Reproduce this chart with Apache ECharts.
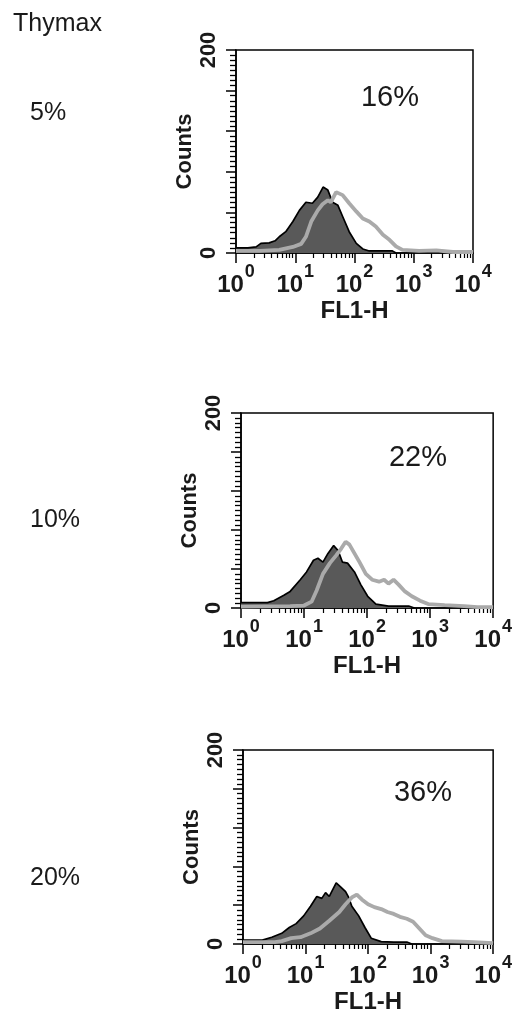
<!DOCTYPE html>
<html>
<head>
<meta charset="utf-8">
<script src="https://cdn.jsdelivr.net/npm/echarts@6/dist/echarts.min.js"></script>
<style>html,body{margin:0;padding:0;background:#fff}#c{width:515px;height:1015px}</style>
</head>
<body>
<div id="c"></div>
<script>
// ---- data (x in log10 decades of FL1-H, y = counts) ----
const conditionLabels = ['5%', '10%', '20%'];
const positiveLabels = ['16%', '22%', '36%'];
const decadeLabels = [0, 1, 2, 3, 4];
const minorMultipliers = [2, 3, 4, 5, 6, 7, 8, 9];

const control1X = [0, 0.2, 0.34, 0.42, 0.56, 0.66, 0.73, 0.84, 0.96, 1.07, 1.18, 1.29, 1.38, 1.47, 1.55, 1.63, 1.72, 1.80, 1.91, 2.03, 2.14, 2.25, 2.45, 2.64, 2.7];
const control1Y = [5, 5, 6, 9.5, 10, 12, 16, 21, 31, 42, 50, 49, 55, 65, 62, 50, 47, 36, 21, 9.5, 4, 2, 2, 2, 0];
const treated1X = [0, 0.4, 0.73, 0.96, 1.10, 1.18, 1.27, 1.38, 1.46, 1.55, 1.60, 1.69, 1.80, 1.91, 2.03, 2.14, 2.25, 2.36, 2.48, 2.59, 2.70, 2.81, 3.09, 3.38, 3.66, 4.0];
const treated1Y = [2, 2, 3, 6, 9, 16, 31, 42, 48, 52, 50, 60, 57, 49, 41, 34, 31, 26, 18, 13, 6.5, 3, 2, 2.5, 1, 1];

const control2X = [0, 0.42, 0.52, 0.68, 0.78, 0.94, 1.04, 1.15, 1.22, 1.30, 1.38, 1.47, 1.54, 1.61, 1.69, 1.80, 1.90, 2.01, 2.14, 2.34, 2.66, 2.75];
const control2Y = [5.5, 5.5, 7.5, 13, 17, 29, 37, 49, 51, 47, 56, 64, 59, 47, 46, 37, 24, 12, 4, 2, 2, 0];
const treated2X = [0, 0.78, 1.0, 1.12, 1.20, 1.30, 1.41, 1.51, 1.59, 1.66, 1.72, 1.80, 1.88, 1.98, 2.08, 2.19, 2.27, 2.34, 2.42, 2.50, 2.60, 2.71, 2.84, 2.97, 3.23, 3.54, 3.75, 4.0];
const treated2Y = [1.5, 2, 2.5, 6.5, 18, 35, 46, 54, 61, 68, 65, 56, 47, 35, 29, 27, 29, 25, 29, 24, 17, 12, 7.5, 4, 3, 2, 1, 1];

const control3X = [0, 0.31, 0.46, 0.62, 0.74, 0.85, 0.97, 1.08, 1.18, 1.26, 1.32, 1.38, 1.49, 1.56, 1.64, 1.69, 1.74, 1.85, 1.95, 2.05, 2.21, 2.41, 2.62, 2.7];
const control3Y = [4, 4, 7, 11, 17, 21, 29, 39, 49, 47, 53, 49, 63, 59, 54, 48, 39, 29, 17, 6, 2.5, 2, 2, 0];
const treated3X = [0, 0.51, 0.62, 0.77, 0.92, 1.08, 1.23, 1.38, 1.54, 1.64, 1.74, 1.82, 1.90, 2.00, 2.10, 2.21, 2.31, 2.41, 2.51, 2.62, 2.72, 2.82, 2.92, 3.03, 3.18, 3.49, 3.69, 4.0];
const treated3Y = [2, 2, 3, 6, 7, 11, 16, 24, 33, 41, 48, 51, 46, 41, 38, 36, 33, 31, 28, 26, 23, 16, 9, 6, 3, 2.5, 2, 1];

const controls = [[control1X, control1Y], [control2X, control2Y], [control3X, control3Y]];
const treateds = [[treated1X, treated1Y], [treated2X, treated2Y], [treated3X, treated3Y]];

// ---- layout ----
const grids = [
  {left: 236, top: 50, width: 237, height: 203},
  {left: 241, top: 413, width: 256, height: 195},
  {left: 243, top: 750, width: 260, height: 202}
];
const FONT = '"Liberation Sans", Arial, sans-serif';
const INK = '#1a1a1a';

const minorTickValues = [];
decadeLabels.slice(0, 4).forEach(d => minorMultipliers.forEach(m => minorTickValues.push(d + Math.log10(m))));

const zip = (xs, ys) => xs.map((x, i) => [x, ys[i]]);

const option = {
  animation: false,
  backgroundColor: '#fff',
  grid: [], xAxis: [], yAxis: [], series: [], graphic: []
};

grids.forEach((g, i) => {
  option.grid.push(Object.assign({show: true, borderColor: '#000', borderWidth: 1.5, backgroundColor: 'transparent'}, g));
  option.xAxis.push({
    gridIndex: i, type: 'value', min: 0, max: 4, interval: 1, position: 'bottom',
    axisLine: {show: true, onZero: false, lineStyle: {color: '#000', width: 1.5}},
    axisTick: {show: true, inside: false, length: 10, lineStyle: {color: '#000', width: 1.5}},
    splitLine: {show: false},
    axisLabel: {
      margin: 19, color: INK, fontFamily: FONT,
      formatter: v => '{b|10}{s|' + v + '}',
      rich: {
        b: {fontSize: 24, lineHeight: 26, fontWeight: 'bold', fontFamily: FONT, color: INK},
        s: {fontSize: 18, lineHeight: 26, fontWeight: 'bold', fontFamily: FONT, color: INK, padding: [0, 0, 26, 1]}
      }
    },
    name: 'FL1-H', nameLocation: 'middle', nameGap: 46, nameMoveOverlap: false,
    nameTextStyle: {fontFamily: FONT, fontSize: 24, fontWeight: 'bold', color: INK}
  });
  option.xAxis.push({
    gridIndex: i, type: 'value', min: 0, max: 4, position: 'bottom',
    axisLine: {show: false},
    axisTick: {show: true, inside: false, length: 5, customValues: minorTickValues, lineStyle: {color: '#000', width: 1.2}},
    axisLabel: {show: false}, splitLine: {show: false}
  });
  option.yAxis.push({
    gridIndex: i, type: 'value', min: 0, max: 200, interval: 40,
    axisLine: {show: true, onZero: false, lineStyle: {color: '#000', width: 1.5}},
    axisTick: {show: true, inside: false, length: 10, lineStyle: {color: '#000', width: 1.5}},
    minorTick: {show: true, splitNumber: 8, length: 6, lineStyle: {color: '#000', width: 1.3}},
    splitLine: {show: false}, minorSplitLine: {show: false},
    axisLabel: {
      rotate: 90, margin: 16, fontSize: 22, fontWeight: 'bold', fontFamily: FONT, color: INK,
      formatter: v => (v === 0 || v === 200) ? String(v) : ''
    },
    name: 'Counts', nameLocation: 'middle', nameRotate: 90, nameGap: 40, nameMoveOverlap: false,
    nameTextStyle: {fontFamily: FONT, fontSize: 22, fontWeight: 'bold', color: INK}
  });
  option.series.push({
    type: 'line', name: 'control ' + conditionLabels[i], xAxisIndex: 2 * i, yAxisIndex: i,
    data: zip(controls[i][0], controls[i][1]), symbol: 'none', smooth: false,
    lineStyle: {color: '#000', width: 1.7}, areaStyle: {color: '#595959', opacity: 1}, z: 2
  });
  option.series.push({
    type: 'line', name: 'Thymax ' + conditionLabels[i], xAxisIndex: 2 * i, yAxisIndex: i,
    data: zip(treateds[i][0], treateds[i][1]), symbol: 'none', smooth: false,
    lineStyle: {color: '#aaaaaa', width: 3.8}, z: 3
  });
});

const sideY = [113, 520, 878];
const pctPos = [[390, 98], [418, 458], [423, 793]];
option.graphic.push({type: 'text', left: 13, top: 12, style: {text: 'Thymax', font: '25px ' + FONT, fill: INK}});
conditionLabels.forEach((t, i) => {
  option.graphic.push({type: 'text', x: 30, y: sideY[i], style: {text: t, font: '25px ' + FONT, fill: INK, verticalAlign: 'middle', align: 'left'}});
  option.graphic.push({type: 'text', x: pctPos[i][0], y: pctPos[i][1], style: {text: positiveLabels[i], font: '29px ' + FONT, fill: INK, verticalAlign: 'middle', align: 'center'}});
});

const chart = echarts.init(document.getElementById('c'), null, {renderer: 'canvas'});
chart.setOption(option);
</script>
</body>
</html>
